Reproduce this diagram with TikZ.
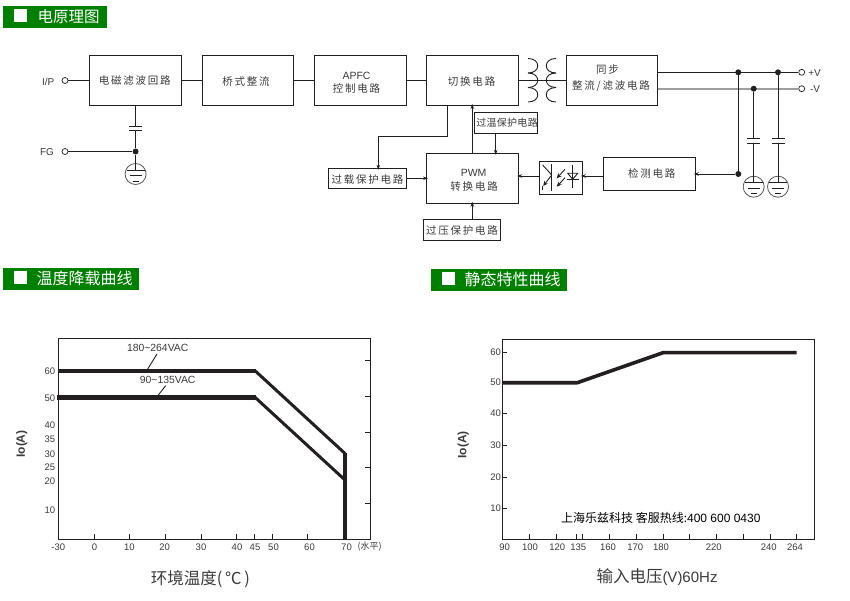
\documentclass[tikz,border=0pt]{standalone}
\usepackage{fontspec}
\usetikzlibrary{arrows.meta}
\setmainfont{Liberation Sans}
\newfontfamily\cjk{Noto Sans CJK SC}
\newfontfamily\cjks[LetterSpace=17]{Noto Sans CJK SC}
\definecolor{hdgreen}{HTML}{008000}
\definecolor{ink}{HTML}{231F20}
\definecolor{lab}{HTML}{3C3C3C}
\newcommand{\px}[1]{\fontsize{#1}{#1}\selectfont}
% zero-size label placed at an offset (in px) from the node centre
\newcommand{\lbl}[3]{\raisebox{\dimexpr#2pt-3.8pt\relax}[0pt][0pt]{\makebox[0pt][c]{\hspace*{#1pt}\hspace*{#1pt}#3}}}
\tikzset{
  x=1pt,y=-1pt,
  blk/.style={draw=ink,line width=0.9pt,inner sep=0pt,font=\cjks\px{10.5},text=lab},
  wire/.style={draw=ink,line width=0.9pt},
  graywire/.style={draw=black!38,line width=2pt},
  arr/.style={wire,-{Stealth[length=5pt,width=3.5pt]},shorten >=-2pt},
  term/.style={circle,draw=ink,line width=0.7pt,fill=white,minimum size=6pt,inner sep=0pt},
  dotn/.style={circle,fill=ink,minimum size=6pt,inner sep=0pt},
  gnd/.style={circle,draw=black!65,line width=0.8pt,minimum size=21pt,inner sep=0pt},
  latin/.style={font=\px{10},text=lab,inner sep=0pt},
  hbar/.style={fill=hdgreen,draw=none},
  htxt/.style={font=\cjk\px{15.5},text=white,inner sep=0pt,anchor=west},
  tick/.style={font=\px{9.5},text=lab,inner sep=0pt},
  frame/.style={draw=ink,line width=0.9pt},
  thick1/.style={draw=ink,line width=4.4pt,line join=miter},
  thick2/.style={draw=ink,line width=3pt},
  axis/.style={font=\bfseries\px{12},text=lab,inner sep=0pt,rotate=90},
  xtitle/.style={font=\cjk\px{16.5},text=lab,inner sep=0pt},
}
\newcommand{\capsym}[2]{% centre x, top plate y
  \draw[wire] (#1-6.5,#2) -- (#1+6.5,#2) (#1-6.5,#2+4.5) -- (#1+6.5,#2+4.5);}
\newcommand{\gndlines}[2]{% ground centre
  \draw[wire,line width=0.7pt] (#1-9,#2-4) -- (#1+9,#2-4) (#1-6,#2+1.5) -- (#1+6,#2+1.5) (#1-3,#2+7) -- (#1+3,#2+7);}
\begin{document}
\begin{tikzpicture}
\useasboundingbox (0,0) rectangle (850,601);
\fill[white] (0,0) rectangle (850,601);

% ---- section headers
\fill[hbar] (3,6) rectangle (107,28);
\fill[white] (14,9.5) rectangle (27,21.7);
\node[htxt] (h1) at (37.5,16.5) {电原理图};
\fill[hbar] (3,268) rectangle (139,290);
\fill[white] (14,271.5) rectangle (27,284);
\node[htxt,font=\cjk\px{16}] (h2) at (36.5,278.5) {温度降载曲线};
\fill[hbar] (431,269) rectangle (567,291);
\fill[white] (442,272.5) rectangle (455,285);
\node[htxt,font=\cjk\px{16}] (h3) at (464.5,279.5) {静态特性曲线};

% ---- blocks
\node[blk,minimum width=92.5pt,minimum height=50pt] (b1) at (135.25,80.5) {\lbl{-0.5}{0}{电磁滤波回路}};
\node[blk,minimum width=91pt,minimum height=50pt] (b2) at (248,80.5) {\lbl{-2}{-1}{桥式整流}};
\node[blk,minimum width=92pt,minimum height=50pt] (b3) at (360.5,80.5) {\lbl{-4}{5}{{\rmfamily APFC}}\lbl{-4}{-8}{控制电路}};
\node[blk,minimum width=92.2pt,minimum height=50pt] (b4) at (472.6,80.5) {\lbl{-1}{-1.5}{切换电路}};
\node[blk,minimum width=91pt,minimum height=50pt] (b5) at (612,80.5) {\lbl{-4.5}{10.5}{同步}\lbl{-1}{-5}{整流/滤波电路}};
\node[blk,minimum width=92.2pt,minimum height=50pt] (pwm) at (472.6,178.3) {\lbl{1}{6}{{\rmfamily PWM}}\lbl{1.5}{-8.7}{转换电路}};
\node[blk,minimum width=63.4pt,minimum height=21pt,font=\cjk\px{10}] (ot) at (506,122.8) {\lbl{1}{0}{\addfontfeature{LetterSpace=3}过温保护电路}};
\node[blk,minimum width=77.4pt,minimum height=21pt] (ov) at (462,229.8) {\lbl{0}{-0.5}{过压保护电路}};
\node[blk,minimum width=78.4pt,minimum height=20pt] (ol) at (367.5,178.3) {\lbl{0}{-1}{过载保护电路}};
\node[blk,minimum width=43pt,minimum height=33pt] (opto) at (560.8,177.8) {};
\node[blk,minimum width=92pt,minimum height=33pt] (det) at (649.3,173.8) {\lbl{2.5}{0.5}{检测电路}};

% ---- terminals and their labels
\node[term] (ip) at (65,80.5) {};
\node[term] (fg) at (65,151.5) {};
\node[term] (pv) at (801.7,72.3) {};
\node[term] (nv) at (801.7,88.7) {};
\node[latin] (ipl) at (48.3,81.5) {I/P};
\node[latin] (fgl) at (47,152) {FG};
\node[latin] (pvl) at (814.5,73) {+V};
\node[latin] (nvl) at (815,89) {-V};

% ---- the grey output rail goes under the dots and the black wires
\draw[graywire] (b5.east |- nv) -- (nv.west);

% ---- junction dots, grounds and capacitor ends
\node[dotn] (d1) at (135.6,151.5) {};
\node[dotn] (d2) at (738.3,72.3) {};
\node[dotn] (d3) at (778,72.3) {};
\node[dotn] (d4) at (753.7,88.7) {};
\node[dotn] (d5) at (738.3,174) {};
\node[gnd] (g1) at (135.6,174) {};
\node[gnd] (g2) at (753.7,186.7) {};
\node[gnd] (g3) at (778,186.7) {};
\coordinate (c1a) at (135.6,126);
\coordinate (c1b) at (135.6,130.5);
\coordinate (c2a) at (753.7,138.7);
\coordinate (c2b) at (753.7,143.2);
\coordinate (c3a) at (778,138.7);
\coordinate (c3b) at (778,143.2);
\coordinate (g1w) at (135.6,170);
\coordinate (g2w) at (753.7,182.7);
\coordinate (g3w) at (778,182.7);
\capsym{135.6}{126}
\capsym{753.7}{138.7}
\capsym{778}{138.7}
\gndlines{135.6}{174}
\gndlines{753.7}{186.7}
\gndlines{778}{186.7}

% ---- connectors
\draw[wire] (ip) -- (b1);
\draw[wire] (b1) -- (b2);
\draw[wire] (b2) -- (b3);
\draw[wire] (b3) -- (b4);
\draw[wire] (b4) -- (b5);
\draw[wire] (fg) -- (d1);
\draw[wire] (b1.south -| c1a) -- (c1a);
\draw[wire] (c1b) -- (d1);
\draw[wire] (d1) -- (g1w);
\draw[wire] (b5.east |- pv) -- (pv);
\draw[wire,line width=1.1pt] (d2) -- (d5);
\draw[wire] (d3) -- (c3a);
\draw[wire] (d4) -- (c2a);
\draw[wire] (c2b) -- (g2w);
\draw[wire] (c3b) -- (g3w);
\draw[arr] (d5) -- (det.east |- d5);
\draw[arr] (b4.south -| 447.7,0) -- (447.7,136.3) -- (378.3,136.3) -- (ol.north -| 378.3,0);
\draw[arr] (ol.east) -- (pwm.west);
\draw[arr] (pwm.north -| 472.3,0) -- (b4.south -| 472.3,0);
\draw[arr] (ot.south -| 495.7,0) -- (pwm.north -| 495.7,0);
\draw[arr] (ov.north -| 472.3,0) -- (pwm.south -| 472.3,0);
\draw[arr] (det.west |- 0,176) -- (opto.east |- 0,176);
\draw[arr] (opto.west |- 0,176) -- (pwm.east |- 0,176);

% ---- transformer
\foreach \yy in {58.5,73,87.5}{
  \draw[wire] (528,\yy) .. controls (541,\yy) and (541,\yy+14.5) .. (528,\yy+14.5);
  \draw[wire] (556,\yy) .. controls (543,\yy) and (543,\yy+14.5) .. (556,\yy+14.5);
}

% ---- optocoupler
\draw[wire,line width=1pt] (551.7,164) -- (551.7,190.7);
\draw[wire] (542.7,165) -- (551.7,175);
\draw[wire,-{Stealth[length=5pt,width=4.5pt]}] (551.7,175) -- (543.2,186);
\draw[wire] (542.7,186) -- (542.7,190);
\draw[wire,-{Stealth[length=5pt,width=4.5pt]}] (565,169.3) -- (556.7,178.3);
\draw[wire,-{Stealth[length=5pt,width=4.5pt]}] (565,177.7) -- (556.7,186.7);
\draw[wire] (572.7,165) -- (572.7,188.3);
\draw[wire] (567.7,173.3) -- (577.7,173.3) -- (572.7,179.3) -- cycle;
\draw[wire] (566.7,179.3) -- (578.7,179.3);

% ---- chart 1: temperature derating
\draw[frame] (58.3,338.3) rectangle (370.3,539.3);
\foreach \yy in {360,396.3,432.3,467.7,503.3}{
  \draw[frame] (365.3,\yy) -- (370.3,\yy);
}
\foreach \xx in {94.3,129.3,165.3,201.3,236.7,254.7,272.7,307.3,345}{
  \draw[frame] (\xx,534.3) -- (\xx,539.3);
}
\draw[thick1] (58.3,370.7) -- (256,370.7);
\draw[thick1] (57,397.3) -- (256,397.3);
\draw[thick2] (255,370.7) -- (345,453.5);
\draw[thick2] (255,397.3) -- (345,480);
\draw[draw=ink,line width=4.2pt] (345,453) -- (345,539.3);
\foreach \v/\yy in {60/371,50/398,40/425.3,35/439.7,30/454.3,25/467.3,20/481.7,10/510.7}{
  \node[tick] (ya\v) at (50,\yy) {\v};
}
\foreach \v/\xx in {-30/58.3,0/94.5,10/129.3,20/164.7,30/201,40/237,45/255,50/273.5,60/309.5,70/346.5}{
  \node[tick] (xa\v) at (\xx,546.9) {\v};
}
\node[tick,font=\cjk\px{9}] (level) at (369.7,546.7) {(水平)};
\node[axis] (ioa) at (21.7,444) {Io(A)};
\node[font=\px{10.4},text=lab,inner sep=0pt] (l180) at (157.7,348.3) {180\char`\~264VAC};
\node[font=\px{10.4},text=lab,inner sep=0pt] (l90) at (167.7,380) {90\char`\~135VAC};
\coordinate (t180) at (147.7,369);
\coordinate (t90) at (158.3,395);
\draw[wire] (157,354) -- (t180);
\draw[wire] (165.7,385.7) -- (t90);
\node[xtitle] (tx1) at (200.5,579) {环境温度(\,℃\,)};

% ---- chart 2: static characteristic
\draw[frame] (502.3,339.3) rectangle (814.3,539.3);
\foreach \yy in {352.3,382.7,413.3,445.3,477.3,508.3}{
  \draw[frame] (502.3,\yy) -- (507.3,\yy);
}
\foreach \xx in {529.3,556.3,576.3,582.3,609.3,636.3,663.3,689.3,716.3,743.3,770.3,796.7}{
  \draw[frame] (\xx,534.3) -- (\xx,539.3);
}
\draw[draw=ink,line width=3.6pt,line join=round] (502.3,382.7) -- (577.3,382.7) -- (663.3,352.6) -- (796.7,352.6);
\foreach \v/\yy in {60/352.3,50/382.5,40/413,30/445.3,20/477.3,10/508}{
  \node[tick] (yb\v) at (495.7,\yy) {\v};
}
\foreach \v/\xx in {90/504.7,100/530,120/557.3,135/578.3,160/608,170/635.3,180/661,220/713.7,240/768.7,264/795}{
  \node[tick] (xb\v) at (\xx,547.7) {\v};
}
\node[axis] (iob) at (463.3,445) {Io(A)};
\node[font=\px{12},text=black,inner sep=0pt] (note) at (660.8,517.7) {{\cjk 上海乐兹科技 客服热线:}400 600 0430};
\node[xtitle,text=lab] (tx2) at (657,576.7) {输入电压{\rmfamily\px{15}(V)60Hz}};
\end{tikzpicture}
\end{document}
